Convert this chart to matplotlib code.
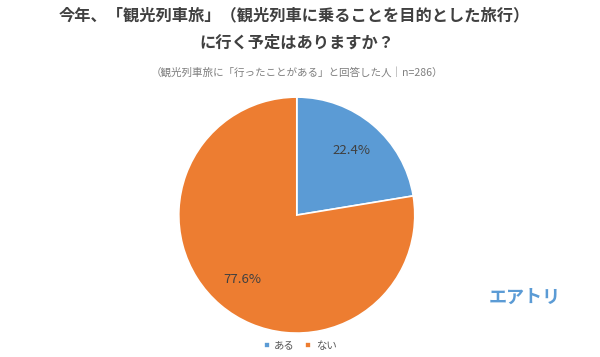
import matplotlib.pyplot as plt

plt.rcParams['font.family'] = ['Noto Sans CJK JP', 'DejaVu Sans']

labels = ['ある', 'ない']
values = [22.4, 77.6]
colors = ['#5B9BD5', '#ED7D31']

title_1 = '今年、「観光列車旅」（観光列車に乗ることを目的とした旅行）'
title_2 = 'に行く予定はありますか？'
subtitle = '（観光列車旅に「行ったことがある」と回答した人｜n=286）'

fig = plt.figure(figsize=(6, 3.57), dpi=100)
fig.patch.set_facecolor('white')

ax = fig.add_axes([0.298, 0.067, 0.3933, 0.661])
wedges, texts, autotexts = ax.pie(
    values, colors=colors, startangle=90, counterclock=False,
    autopct='%.1f%%', pctdistance=0.72,
    wedgeprops=dict(edgecolor='white', linewidth=1.2),
    textprops=dict(fontsize=9.5, color='#404040'))
ax.set_xlim(-1, 1)
ax.set_ylim(-1, 1)
ax.set_aspect('equal')

fig.text(0.49, 0.958, title_1, ha='center', va='center', fontsize=11.7,
         fontweight='bold', color='#404040')
fig.text(0.495, 0.88, title_2, ha='center', va='center', fontsize=11.7,
         fontweight='bold', color='#404040')
fig.text(0.495, 0.798, subtitle, ha='center', va='center', fontsize=7.6,
         color='#7f7f7f')

fig.text(0.875, 0.168, 'エアトリ', ha='center', va='center', fontsize=13,
         fontweight='bold', color='#5B9BD5')

fig.legend(wedges, labels, loc='center', bbox_to_anchor=(0.5, 0.032),
           ncol=2, frameon=False, fontsize=7.5, handlelength=0.6,
           handleheight=0.6, columnspacing=1.0, handletextpad=0.4,
           labelcolor='#595959')

fig.savefig('out.png', dpi=100, facecolor='white')
